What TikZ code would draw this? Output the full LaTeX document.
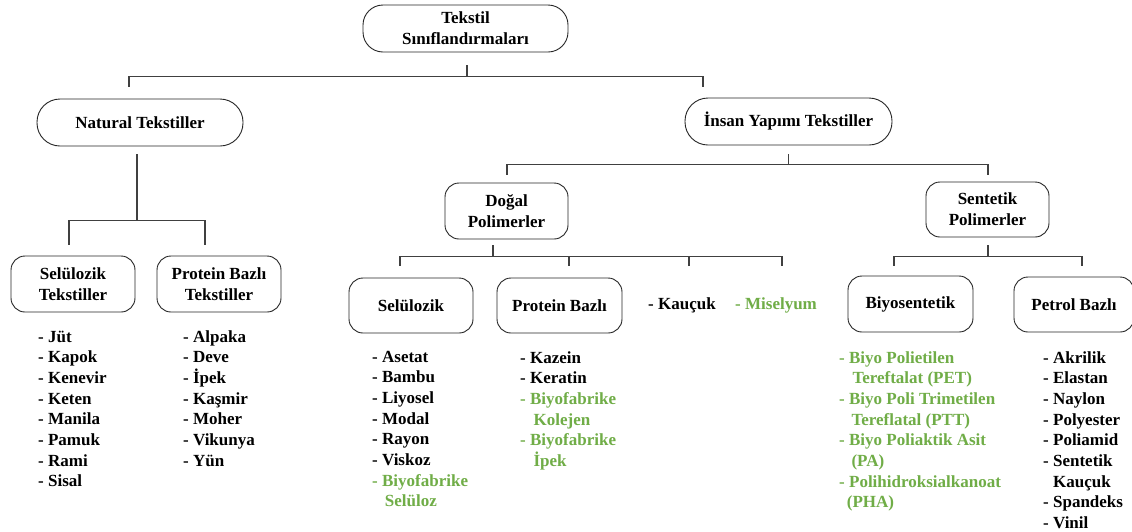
\documentclass[tikz,border=0pt]{standalone}
\usepackage{fontspec}
\setmainfont{Liberation Serif}
\usetikzlibrary{calc}
\definecolor{grn}{RGB}{112,173,71}
\definecolor{ln}{RGB}{64,64,64}
\newcommand\cont[1]{\hspace*{#1pt}}
\begin{document}
\begin{tikzpicture}[x=1pt,y=-1pt,
  box/.style={draw=black!85, line width=0.9pt, rounded corners=#1, align=center, inner sep=0pt,
    font=\fontsize{17}{21}\selectfont\bfseries},
  box/.default=14pt,
  conn/.style={draw=ln, line width=1.1pt},
  lst/.style={anchor=base west, inner sep=0pt, font=\fontsize{17}{20.7}\selectfont\bfseries}]
\useasboundingbox (0,0) rectangle (1132,531);
\fill[white] (0,0) rectangle (1132,531);

% boxes
\node[box=20pt, minimum width=205pt, minimum height=47pt] (root) at (465.5,28.5) {Tekstil\\Sınıflandırmaları};
\node[box=23pt, minimum width=206pt, minimum height=47pt] (nat) at (140,122.5) {Natural Tekstiller};
\node[box=23pt, minimum width=207pt, minimum height=47pt] (ins) at (788.5,121.5) {İnsan Yapımı Tekstiller};
\node[box, minimum width=123pt, minimum height=56pt] (dog) at (506.5,211) {Doğal\\Polimerler};
\node[box, minimum width=123pt, minimum height=55pt] (sen) at (987.5,209.5) {Sentetik\\Polimerler};
\node[box, minimum width=124pt, minimum height=56pt] (selt) at (73,284) {Selülozik\\Tekstiller};
\node[box, minimum width=124pt, minimum height=56pt] (prot) at (219,284) {Protein Bazlı\\Tekstiller};
\node[box, minimum width=124pt, minimum height=55pt] (sel) at (411,305.5) {Selülozik};
\node[box, minimum width=125pt, minimum height=55pt] (pro) at (559.5,305.5) {Protein Bazlı};
\node[box, minimum width=125pt, minimum height=56pt] (bio) at (910.5,304) {Biyosentetik};
\node[box, minimum width=120pt, minimum height=55pt] (pet) at (1074,304.5) {Petrol Bazlı};

\node[lst] (kau) at (648,309) {- Kauçuk};
\node[lst, text=grn] (mis) at (735,309) {- Miselyum};

% lists
\node[lst] (l1) at (38,342) {\begin{tabular}[t]{@{}l@{}}- Jüt\\- Kapok\\- Kenevir\\- Keten\\- Manila\\- Pamuk\\- Rami\\- Sisal\end{tabular}};
\node[lst] (l2) at (183,342) {\begin{tabular}[t]{@{}l@{}}- Alpaka\\- Deve\\- İpek\\- Kaşmir\\- Moher\\- Vikunya\\- Yün\end{tabular}};
\node[lst] (l3) at (372,362) {\begin{tabular}[t]{@{}l@{}}- Asetat\\- Bambu\\- Liyosel\\- Modal\\- Rayon\\- Viskoz\\\textcolor{grn}{- Biyofabrike}\\\textcolor{grn}{\cont{12.7}Selüloz}\end{tabular}};
\node[lst] (l4) at (520,363) {\begin{tabular}[t]{@{}l@{}}- Kazein\\- Keratin\\\textcolor{grn}{- Biyofabrike}\\\textcolor{grn}{\cont{13.5}Kolejen}\\\textcolor{grn}{- Biyofabrike}\\\textcolor{grn}{\cont{13.3}İpek}\end{tabular}};
\node[lst, text=grn] (l5) at (839,363) {\begin{tabular}[t]{@{}l@{}}- Biyo Polietilen\\\cont{13.3}Tereftalat (PET)\\- Biyo Poli Trimetilen\\\cont{12.3}Tereflatal (PTT)\\- Biyo Poliaktik Asit\\\cont{12.3}(PA)\\- Polihidroksialkanoat\\\cont{7.7}(PHA)\end{tabular}};
\node[lst] (l6) at (1043,363) {\begin{tabular}[t]{@{}l@{}}- Akrilik\\- Elastan\\- Naylon\\- Polyester\\- Poliamid\\- Sentetik\\\cont{10}Kauçuk\\- Spandeks\\- Vinil\end{tabular}};

% connectors
\draw[conn] ($(root.south)+(1.5,13)$) -- ++(0,12);
\draw[conn] ($(nat.north)+(-11,-12)$) -- ++(0,-10) -| ($(ins.north)+(-85.5,-11)$);
\draw[conn] ($(nat.south)+(-3,8)$) -- ++(0,67) coordinate (nb);
\draw[conn] ($(selt.north)+(-4,-11)$) -- ++(0,-24) -| ($(prot.north)+(-14,-11)$);
\draw[conn] ($(ins.south)+(0,9)$) -- ++(0,11);
\draw[conn] ($(dog.north)+(0.5,-8)$) -- ++(0,-10) -| ($(sen.north)+(0.5,-7)$);
\draw[conn] ($(dog.south)+(-13.5,6)$) -- ++(0,12);
\coordinate (kd) at (689,266);
\coordinate (md) at (782,266);
\draw[conn] ($(sel.north)+(-11,-12)$) -- ++(0,-9) -| (md);
\draw[conn] ($(pro.north)+(9.5,-12)$) -- ++(0,-9);
\draw[conn] (kd) -- ++(0,-9);
\draw[conn] ($(sen.south)+(0.5,8)$) -- ++(0,12);
\draw[conn] ($(bio.north)+(-16.5,-10)$) -- ++(0,-9) -| ($(pet.north)+(8,-11)$);
\end{tikzpicture}
\end{document}
